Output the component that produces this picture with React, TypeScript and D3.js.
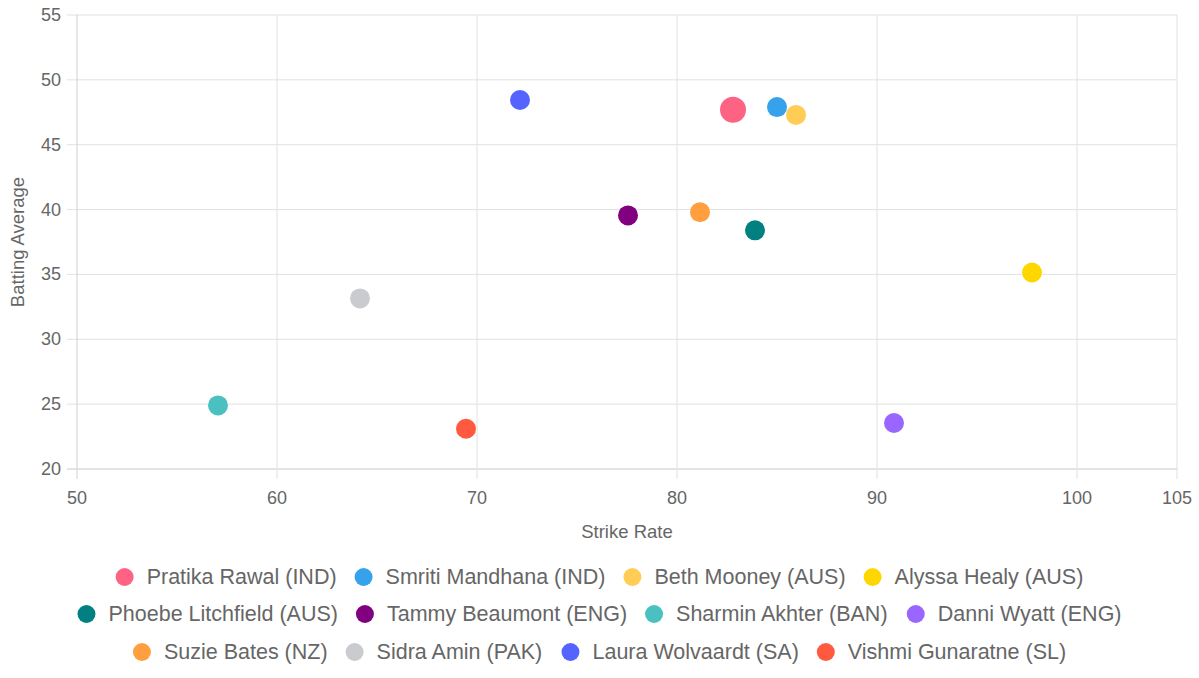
import React, { useMemo } from "react";
import * as d3 from "d3";

const players = [
  "Pratika Rawal (IND)",
  "Smriti Mandhana (IND)",
  "Beth Mooney (AUS)",
  "Alyssa Healy (AUS)",
  "Phoebe Litchfield (AUS)",
  "Tammy Beaumont (ENG)",
  "Sharmin Akhter (BAN)",
  "Danni Wyatt (ENG)",
  "Suzie Bates (NZ)",
  "Sidra Amin (PAK)",
  "Laura Wolvaardt (SA)",
  "Vishmi Gunaratne (SL)",
];
const strikeRate = [82.8, 85.0, 85.95, 97.75, 83.9, 77.55, 57.05, 90.85, 81.15, 64.15, 72.15, 69.45];
const battingAvg = [47.7, 47.9, 47.3, 35.15, 38.4, 39.55, 24.9, 23.55, 39.8, 33.15, 48.45, 23.1];
const colors = [
  "#ff6384", "#36a2eb", "#ffcd56", "#ffd700",
  "#008080", "#800080", "#4bc0c0", "#9966ff",
  "#ff9f40", "#c9cbcf", "#5563ff", "#ff5a40",
];
const highlighted = [true, false, false, false, false, false, false, false, false, false, false, false];

const xTicks = [50, 60, 70, 80, 90, 100, 105];
const yTicks = [20, 25, 30, 35, 40, 45, 50, 55];
const legendRows = [[0, 1, 2, 3], [4, 5, 6, 7], [8, 9, 10, 11]];

const W = 1199;
const H = 678;
const FONT = "'Liberation Sans', Arial, Helvetica, sans-serif";
const TEXT = "#666";
const LEGEND_FS = 21.5;

export default function App() {
  const x = d3.scaleLinear().domain([50, 105]).range([77, 1177]);
  const y = d3.scaleLinear().domain([20, 55]).range([469, 15]);

  const widths = useMemo(() => {
    const c = document.createElement("canvas").getContext("2d")!;
    c.font = `${LEGEND_FS}px ${FONT}`;
    return players.map((p) => c.measureText(p).width);
  }, []);

  const legendY = [577, 614, 652];
  const itemW = (i: number) => 18 + 13 + widths[i];
  const gap = 18;

  return (
    <svg width={W} height={H} style={{ position: "absolute", left: 0, top: 0, background: "#fff" }} fontFamily={FONT}>
      {/* grid */}
      {yTicks.map((t) => (
        <line key={"gy" + t} x1={67} x2={x(105)} y1={y(t)} y2={y(t)}
          stroke={t === 20 ? "#c8c8c8" : "#e1e1e1"} strokeWidth={1} />
      ))}
      {xTicks.map((t) => (
        <line key={"gx" + t} x1={x(t)} x2={x(t)} y1={y(55)} y2={479}
          stroke={t === 50 ? "#d0d0d0" : "#e1e1e1"} strokeWidth={1} />
      ))}
      {/* ticks */}
      {xTicks.map((t) => (
        <text key={"tx" + t} x={x(t)} y={498} textAnchor="middle" dominantBaseline="central"
          fontSize={18} fill={TEXT}>{t}</text>
      ))}
      {yTicks.map((t) => (
        <text key={"ty" + t} x={61} y={y(t)} textAnchor="end" dominantBaseline="central"
          fontSize={18} fill={TEXT}>{t}</text>
      ))}
      {/* axis titles */}
      <text x={(x(50) + x(105)) / 2} y={531} textAnchor="middle" dominantBaseline="central"
        fontSize={18.5} fill={TEXT}>Strike Rate</text>
      <text transform={`translate(17, ${(y(20) + y(55)) / 2}) rotate(-90)`} textAnchor="middle"
        dominantBaseline="central" fontSize={18.5} fill={TEXT}>Batting Average</text>
      {/* points */}
      {players.map((p, i) => (
        <circle key={p} cx={x(strikeRate[i])} cy={y(battingAvg[i])} r={highlighted[i] ? 13 : 10}
          fill={colors[i]} />
      ))}
      {/* legend */}
      {legendRows.map((row, ri) => {
        const total = row.reduce((s, i) => s + itemW(i), 0) + gap * (row.length - 1);
        let cur = W / 2 - total / 2;
        return row.map((i) => {
          const left = cur;
          cur += itemW(i) + gap;
          return (
            <g key={"lg" + i}>
              <circle cx={left + 9} cy={legendY[ri]} r={9} fill={colors[i]} />
              <text x={left + 31} y={legendY[ri]} dominantBaseline="central" fontSize={LEGEND_FS} fill={TEXT}>
                {players[i]}
              </text>
            </g>
          );
        });
      })}
    </svg>
  );
}
